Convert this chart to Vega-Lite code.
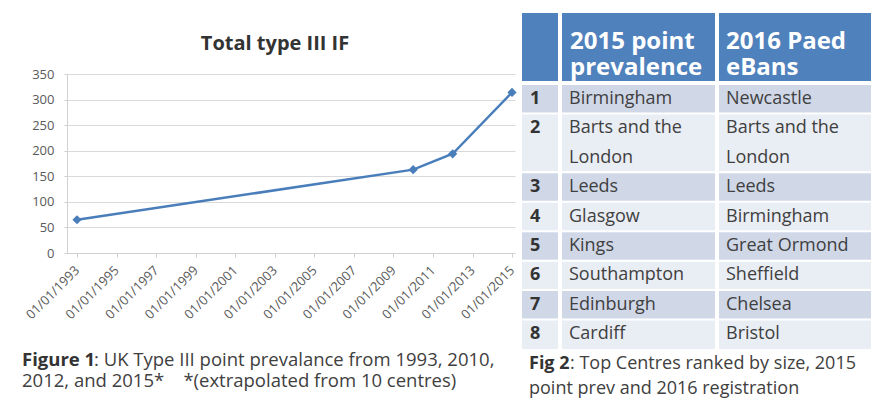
{
  "$schema": "https://vega.github.io/schema/vega-lite/v6.json",
  "padding": {"left": 22, "top": 13, "right": 0, "bottom": 0},
  "background": "white",
  "config": {
    "font": "Open Sans",
    "view": {"stroke": null},
    "axis": {"labelFont": "Open Sans"},
    "text": {"font": "Open Sans"}
  },
  "datasets": {
    "titles": [{"t": "Total type III IF"}],
    "series": [
      {"date": "1993-01-01", "value": 65},
      {"date": "2010-01-01", "value": 163},
      {"date": "2012-01-01", "value": 194},
      {"date": "2015-01-01", "value": 314}
    ],
    "cap1": [
      {"line": 1, "bold": "Figure 1", "text": ": UK Type III point prevalance from 1993, 2010,"},
      {"line": 2, "bold": "", "text": "2012, and 2015*\u00a0\u00a0\u00a0 *(extrapolated from 10 centres)"}
    ],
    "cap2": [
      {"line": 1, "bold": "Fig 2", "text": ": Top Centres ranked by size, 2015"},
      {"line": 2, "bold": "", "text": "point prev and 2016 registration"}
    ],
    "header": [
      {"line": 1, "rank": "", "a": "2015 point", "b": "2016 Paed"},
      {"line": 2, "rank": "", "a": "prevalence", "b": "eBans"}
    ],
    "body": [
      {"slot": "r1", "row": 1, "rank": "1", "a": "Birmingham", "b": "Newcastle"},
      {"slot": "r2a", "row": 2, "rank": "2", "a": "Barts and the", "b": "Barts and the"},
      {"slot": "r2b", "row": 2, "rank": "", "a": "London", "b": "London"},
      {"slot": "r3", "row": 3, "rank": "3", "a": "Leeds", "b": "Leeds"},
      {"slot": "r4", "row": 4, "rank": "4", "a": "Glasgow", "b": "Birmingham"},
      {"slot": "r5", "row": 5, "rank": "5", "a": "Kings", "b": "Great Ormond"},
      {"slot": "r6", "row": 6, "rank": "6", "a": "Southampton", "b": "Sheffield"},
      {"slot": "r7", "row": 7, "rank": "7", "a": "Edinburgh", "b": "Chelsea"},
      {"slot": "r8", "row": 8, "rank": "8", "a": "Cardiff", "b": "Bristol"}
    ]
  },
  "hconcat": [
    {
      "vconcat": [
        {
          "width": 448,
          "height": 54,
          "data": {"name": "titles"},
          "mark": {"type": "text", "align": "center", "baseline": "middle", "dx": -16, "dy": 4, "fontSize": 20, "fontWeight": "bold", "color": "#333333"},
          "encoding": {"text": {"field": "t"}}
        },
        {
          "vconcat": [
            {
              "width": 448,
              "height": 179,
              "data": {"name": "series"},
              "encoding": {
                "x": {
                  "field": "date", "type": "temporal",
                  "scale": {"type": "utc", "domain": [{"year": 1992, "month": 6, "date": 30, "utc": true}, {"year": 2015, "month": 2, "date": 25, "utc": true}]},
                  "axis": {
                    "title": null,
                    "values": [
                      {"year": 1993, "month": 1, "date": 1, "utc": true},
                      {"year": 1995, "month": 1, "date": 1, "utc": true},
                      {"year": 1997, "month": 1, "date": 1, "utc": true},
                      {"year": 1999, "month": 1, "date": 1, "utc": true},
                      {"year": 2001, "month": 1, "date": 1, "utc": true},
                      {"year": 2003, "month": 1, "date": 1, "utc": true},
                      {"year": 2005, "month": 1, "date": 1, "utc": true},
                      {"year": 2007, "month": 1, "date": 1, "utc": true},
                      {"year": 2009, "month": 1, "date": 1, "utc": true},
                      {"year": 2011, "month": 1, "date": 1, "utc": true},
                      {"year": 2013, "month": 1, "date": 1, "utc": true},
                      {"year": 2015, "month": 1, "date": 1, "utc": true}
                    ],
                    "format": "%d/%m/%Y",
                    "labelAngle": -45,
                    "labelAlign": "right",
                    "labelBaseline": "middle",
                    "labelFontSize": 13,
                    "labelColor": "#595959",
                    "grid": false,
                    "domainColor": "#d0d0d0",
                    "tickColor": "#d0d0d0",
                    "tickSize": 4,
                    "labelPadding": 11,
                    "labelOverlap": false,
                    "labelFlush": false
                  }
                },
                "y": {
                  "field": "value", "type": "quantitative",
                  "scale": {"domain": [0, 350], "nice": false},
                  "axis": {
                    "title": null,
                    "values": [0, 50, 100, 150, 200, 250, 300, 350],
                    "labelFontSize": 13,
                    "labelColor": "#595959",
                    "gridColor": "#d9d9d9",
                    "domainColor": "#d0d0d0",
                    "tickColor": "#d0d0d0",
                    "tickSize": 3,
                    "labelPadding": 10
                  }
                }
              },
              "layer": [
                {"mark": {"type": "line", "color": "#4a7ebb", "strokeWidth": 2.5}},
                {"mark": {"type": "point", "shape": "diamond", "filled": true, "size": 85, "color": "#4a7ebb", "opacity": 1}}
              ]
            },
            {
              "width": 448,
              "height": 41,
              "data": {"name": "cap1"},
              "encoding": {
                "x": {"value": 0},
                "y": {"field": "line", "type": "ordinal", "axis": null}
              },
              "layer": [
                {"transform": [{"filter": "datum.line == 1"}], "mark": {"type": "text", "align": "left", "baseline": "middle", "dx": -45, "fontSize": 18.5, "fontWeight": "bold", "color": "#333333"}, "encoding": {"text": {"field": "bold"}}},
                {"transform": [{"filter": "datum.line == 1"}], "mark": {"type": "text", "align": "left", "baseline": "middle", "dx": 27, "fontSize": 18.5, "color": "#404040"}, "encoding": {"text": {"field": "text"}}},
                {"transform": [{"filter": "datum.line == 2"}], "mark": {"type": "text", "align": "left", "baseline": "middle", "dx": -45, "fontSize": 18.5, "color": "#404040"}, "encoding": {"text": {"field": "text"}}}
              ]
            }
          ],
          "spacing": 28
        }
      ],
      "spacing": 1
    },
    {
      "vconcat": [
        {
          "concat": [
            {
              "width": 36, "height": 68,
              "view": {"fill": "#4f81bd", "stroke": null},
              "data": {"name": "header"},
              "mark": {"type": "text", "align": "left", "baseline": "middle", "dx": 8, "fontSize": 24, "fontWeight": "bold", "color": "white"},
              "encoding": {"x": {"value": 0}, "y": {"field": "line", "type": "ordinal", "axis": null, "scale": {"type": "band", "paddingInner": 0, "paddingOuter": 0.31, "align": 1}}, "text": {"field": "rank"}}
            },
            {
              "width": 153, "height": 68,
              "view": {"fill": "#4f81bd", "stroke": null},
              "data": {"name": "header"},
              "mark": {"type": "text", "align": "left", "baseline": "middle", "dx": 8, "fontSize": 24, "fontWeight": "bold", "color": "white"},
              "encoding": {"x": {"value": 0}, "y": {"field": "line", "type": "ordinal", "axis": null, "scale": {"type": "band", "paddingInner": 0, "paddingOuter": 0.31, "align": 1}}, "text": {"field": "a"}}
            },
            {
              "width": 158, "height": 68,
              "view": {"fill": "#4f81bd", "stroke": null},
              "data": {"name": "header"},
              "mark": {"type": "text", "align": "left", "baseline": "middle", "dx": 7, "fontSize": 24, "fontWeight": "bold", "color": "white"},
              "encoding": {"x": {"value": 0}, "y": {"field": "line", "type": "ordinal", "axis": null, "scale": {"type": "band", "paddingInner": 0, "paddingOuter": 0.31, "align": 1}}, "text": {"field": "b"}}
            },
            {
              "width": 36, "height": 265,
              "data": {"name": "body"},
              "encoding": {"y": {"field": "slot", "type": "nominal", "axis": null, "scale": {"type": "band", "domain": ["r1", "r2a", "r2b", "r3", "r4", "r5", "r6", "r7", "r8"], "paddingInner": 0, "paddingOuter": 0}}},
              "layer": [
                {"mark": {"type": "rect"}, "encoding": {"color": {"field": "row", "type": "ordinal", "legend": null, "scale": {"domain": [1, 2, 3, 4, 5, 6, 7, 8], "range": ["#d0d8e8", "#e9edf4", "#d0d8e8", "#e9edf4", "#d0d8e8", "#e9edf4", "#d0d8e8", "#e9edf4"]}}}},
                {"transform": [{"filter": "datum.rank != ''"}], "mark": {"type": "rule", "color": "white", "strokeWidth": 2}, "encoding": {"y": {"field": "slot", "type": "nominal", "bandPosition": 0}}},
                {"mark": {"type": "text", "align": "left", "baseline": "middle", "dx": 8, "fontSize": 18, "fontWeight": "bold", "color": "#333333"}, "encoding": {"x": {"value": 0}, "text": {"field": "rank"}}}
              ]
            },
            {
              "width": 153, "height": 265,
              "data": {"name": "body"},
              "encoding": {"y": {"field": "slot", "type": "nominal", "axis": null, "scale": {"type": "band", "domain": ["r1", "r2a", "r2b", "r3", "r4", "r5", "r6", "r7", "r8"], "paddingInner": 0, "paddingOuter": 0}}},
              "layer": [
                {"mark": {"type": "rect"}, "encoding": {"color": {"field": "row", "type": "ordinal", "legend": null}}},
                {"transform": [{"filter": "datum.rank != ''"}], "mark": {"type": "rule", "color": "white", "strokeWidth": 2}, "encoding": {"y": {"field": "slot", "type": "nominal", "bandPosition": 0}}},
                {"mark": {"type": "text", "align": "left", "baseline": "middle", "dx": 7, "fontSize": 18, "color": "#404040"}, "encoding": {"x": {"value": 0}, "text": {"field": "a"}}}
              ]
            },
            {
              "width": 158, "height": 265,
              "data": {"name": "body"},
              "encoding": {"y": {"field": "slot", "type": "nominal", "axis": null, "scale": {"type": "band", "domain": ["r1", "r2a", "r2b", "r3", "r4", "r5", "r6", "r7", "r8"], "paddingInner": 0, "paddingOuter": 0}}},
              "layer": [
                {"mark": {"type": "rect"}, "encoding": {"color": {"field": "row", "type": "ordinal", "legend": null}}},
                {"transform": [{"filter": "datum.rank != ''"}], "mark": {"type": "rule", "color": "white", "strokeWidth": 2}, "encoding": {"y": {"field": "slot", "type": "nominal", "bandPosition": 0}}},
                {"mark": {"type": "text", "align": "left", "baseline": "middle", "dx": 7, "fontSize": 18, "color": "#404040"}, "encoding": {"x": {"value": 0}, "text": {"field": "b"}}}
              ]
            }
          ],
          "columns": 3,
          "spacing": 2
        },
        {
          "width": 351,
          "height": 50,
          "data": {"name": "cap2"},
          "encoding": {
            "x": {"value": 0},
            "y": {"field": "line", "type": "ordinal", "axis": null}
          },
          "layer": [
            {"transform": [{"filter": "datum.line == 1"}], "mark": {"type": "text", "align": "left", "baseline": "middle", "dx": 7, "fontSize": 18, "fontWeight": "bold", "color": "#333333"}, "encoding": {"text": {"field": "bold"}}},
            {"transform": [{"filter": "datum.line == 1"}], "mark": {"type": "text", "align": "left", "baseline": "middle", "dx": 48, "fontSize": 18, "color": "#404040"}, "encoding": {"text": {"field": "text"}}},
            {"transform": [{"filter": "datum.line == 2"}], "mark": {"type": "text", "align": "left", "baseline": "middle", "dx": 7, "fontSize": 18, "color": "#404040"}, "encoding": {"text": {"field": "text"}}}
          ]
        }
      ],
      "spacing": 2
    }
  ],
  "spacing": 3
}
